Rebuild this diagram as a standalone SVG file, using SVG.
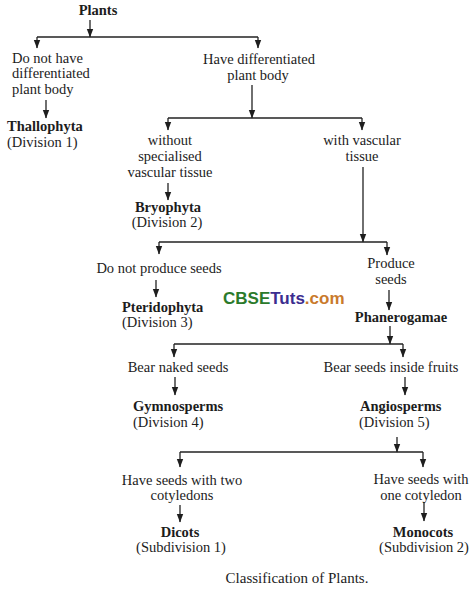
<svg xmlns="http://www.w3.org/2000/svg" width="474" height="593" viewBox="0 0 474 593">
<defs>
<marker id="ah" markerUnits="userSpaceOnUse" markerWidth="9" markerHeight="8" viewBox="0 0 9 8" refX="8" refY="4" orient="auto">
<path d="M0,0.8 L8.5,4 L0,7.2 z" fill="#1e1e1e"/>
</marker>
</defs>
<style>
text{font-family:"Liberation Serif","Times New Roman",serif;font-size:14.5px;fill:#1c1c1c}
.b{font-weight:bold}
.m{text-anchor:middle}
.c line, .c path{stroke:#222;stroke-width:1.3;fill:none}
.a{marker-end:url(#ah)}
.wm{font-family:"Liberation Sans",Arial,sans-serif;font-weight:bold;font-size:17px}
</style>
<rect width="474" height="593" fill="#ffffff"/>
<g class="c" id="connectors">
<line class="a" x1="90" y1="20" x2="90" y2="37"/>
<line x1="37" y1="37" x2="258" y2="37"/>
<line class="a" x1="37" y1="37" x2="37" y2="48"/>
<line class="a" x1="258" y1="37" x2="258" y2="48"/>
<line class="a" x1="46" y1="100" x2="46" y2="118"/>
<line class="a" x1="252" y1="85" x2="252" y2="118"/>
<line x1="168" y1="118" x2="362" y2="118"/>
<line class="a" x1="168" y1="118" x2="168" y2="130"/>
<line class="a" x1="362" y1="118" x2="362" y2="130"/>
<line class="a" x1="168" y1="183" x2="168" y2="200"/>
<line class="a" x1="363" y1="167" x2="363" y2="242"/>
<line x1="159" y1="242" x2="387" y2="242"/>
<line class="a" x1="159" y1="242" x2="159" y2="254"/>
<line class="a" x1="387" y1="242" x2="387" y2="255"/>
<line class="a" x1="156" y1="280" x2="156" y2="297"/>
<line class="a" x1="389" y1="290" x2="389" y2="310"/>
<line class="a" x1="390" y1="326" x2="390" y2="344"/>
<line x1="174" y1="344" x2="403" y2="344"/>
<line class="a" x1="174" y1="344" x2="174" y2="357"/>
<line class="a" x1="403" y1="344" x2="403" y2="357"/>
<line class="a" x1="175" y1="377" x2="175" y2="395"/>
<line class="a" x1="405" y1="377" x2="405" y2="395"/>
<line class="a" x1="397" y1="437" x2="397" y2="452"/>
<line x1="180" y1="452" x2="423" y2="452"/>
<line class="a" x1="180" y1="452" x2="180" y2="467"/>
<line class="a" x1="423" y1="452" x2="423" y2="467"/>
<line class="a" x1="180" y1="505" x2="180" y2="522"/>
<line class="a" x1="424" y1="502" x2="424" y2="521"/>
</g>
<g id="plants"><text class="b m" x="98" y="15">Plants</text></g>
<g id="no-diff"><text x="12" y="63">Do not have</text><text x="12" y="78">differentiated</text><text x="12" y="94">plant body</text></g>
<g id="thallophyta"><text class="b" x="7" y="131">Thallophyta</text><text x="7" y="147">(Division 1)</text></g>
<g id="have-diff"><text class="m" x="259" y="64">Have differentiated</text><text class="m" x="258" y="80">plant body</text></g>
<g id="without-vasc"><text class="m" x="170" y="145">without</text><text class="m" x="170" y="161">specialised</text><text class="m" x="170" y="177">vascular tissue</text></g>
<g id="bryophyta"><text class="b m" x="168" y="212">Bryophyta</text><text class="m" x="167" y="227">(Division 2)</text></g>
<g id="with-vasc"><text class="m" x="362" y="145">with vascular</text><text class="m" x="362" y="161">tissue</text></g>
<g id="no-seeds"><text class="m" x="159" y="273">Do not produce seeds</text></g>
<g id="pteridophyta"><text class="b" x="122" y="312">Pteridophyta</text><text x="122" y="327">(Division 3)</text></g>
<g id="produce-seeds"><text class="m" x="391" y="268">Produce</text><text class="m" x="391" y="284">seeds</text></g>
<g id="phanerogamae"><text class="b m" x="401" y="322">Phanerogamae</text></g>
<g id="naked-seeds"><text class="m" x="178" y="372">Bear naked seeds</text></g>
<g id="gymnosperms"><text class="b" x="133" y="411">Gymnosperms</text><text x="133" y="427">(Division 4)</text></g>
<g id="fruit-seeds"><text class="m" x="391" y="372">Bear seeds inside fruits</text></g>
<g id="angiosperms"><text class="b" x="360" y="411">Angiosperms</text><text x="359" y="427">(Division 5)</text></g>
<g id="two-cot"><text class="m" x="182" y="485">Have seeds with two</text><text class="m" x="182" y="500">cotyledons</text></g>
<g id="dicots"><text class="b m" x="180" y="537">Dicots</text><text class="m" x="181" y="552">(Subdivision 1)</text></g>
<g id="one-cot"><text class="m" x="421" y="484">Have seeds with</text><text class="m" x="421" y="500">one cotyledon</text></g>
<g id="monocots"><text class="b m" x="423" y="537">Monocots</text><text class="m" x="424" y="552">(Subdivision 2)</text></g>
<g id="caption"><text class="m" x="297" y="583" style="font-size:15px">Classification of Plants.</text></g>
<g id="watermark"><text class="wm" x="223" y="304"><tspan fill="#2b7a2b">CBSE</tspan><tspan fill="#3b2d8f">Tuts</tspan><tspan fill="#c97a2c">.com</tspan></text></g>
</svg>
